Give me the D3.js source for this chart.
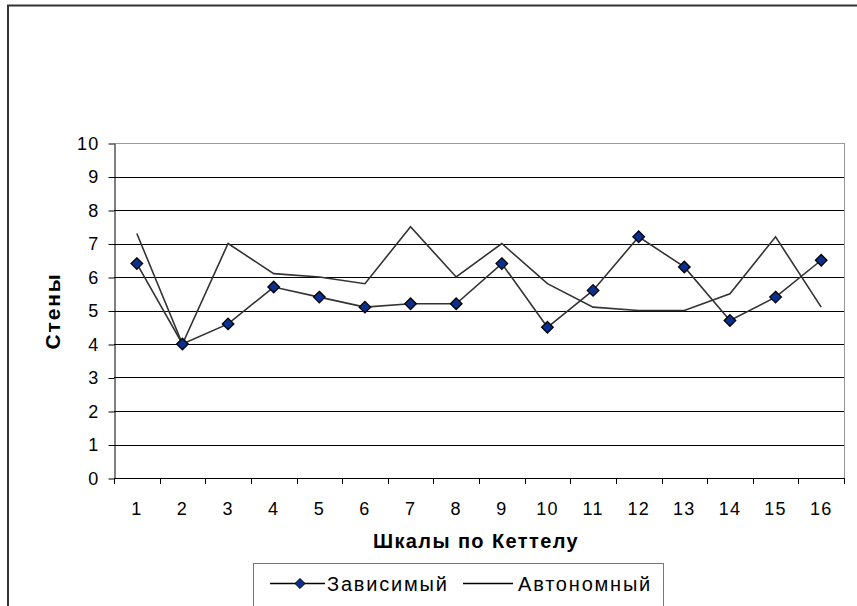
<!DOCTYPE html>
<html>
<head>
<meta charset="utf-8">
<script src="https://cdn.jsdelivr.net/npm/d3@7"></script>
<style>
  html, body { margin: 0; padding: 0; background: #fff; }
  #chart { width: 857px; height: 606px; overflow: hidden; }
</style>
</head>
<body>
<div id="chart"></div>
<script>
// Стены по шкалам Кеттела: две группы испытуемых

const scales = ["1","2","3","4","5","6","7","8","9","10","11","12","13","14","15","16"];

const dependent = [6.4, 4.0, 4.6, 5.7, 5.4, 5.1, 5.2, 5.2, 6.4, 4.5, 5.6, 7.2, 6.3, 4.7, 5.4, 6.5];
const autonomous = [7.3, 4.0, 7.0, 6.1, 6.0, 5.8, 7.5, 6.0, 7.0, 5.8, 5.1, 5.0, 5.0, 5.5, 7.2, 5.1];

const yTicks = [0,1,2,3,4,5,6,7,8,9,10];

const seriesNames = ["Зависимый", "Автономный"];

const width  = 857;
const height = 606;
const plot   = { left: 114, right: 844, top: 143, bottom: 478 };
const font   = "'Liberation Sans', Arial, sans-serif";

const svg = d3.select("#chart")
  .append("svg")
  .attr("width",  width)
  .attr("height", height)
  .style("display", "block");

svg.append("rect")
  .attr("width", width)
  .attr("height", height)
  .attr("fill", "#fff");

// outer chart frame (cut off on the right and bottom)
svg.append("path")
  .attr("d", `M8,${height + 5} L8,5.5 L${width + 5},5.5`)
  .attr("fill", "none")
  .attr("stroke", "#333")
  .attr("stroke-width", 2);

const xScale = d3.scaleBand()
  .domain(scales)
  .range([plot.left, plot.right]);

const yScale = d3.scaleLinear()
  .domain([0, 10])
  .range([plot.bottom, plot.top]);

// horizontal gridlines
svg.append("g")
  .selectAll("line")
  .data(yTicks.filter(t => t > 0))
  .join("line")
  .attr("x1", plot.left)
  .attr("x2", plot.right)
  .attr("y1", t => Math.round(yScale(t)) + 0.5)
  .attr("y2", t => Math.round(yScale(t)) + 0.5)
  .attr("stroke", t => t === 10 ? "#999" : "#000")
  .attr("stroke-width", 1);

// right border of plot area
svg.append("line")
  .attr("x1", plot.right + 0.5)
  .attr("x2", plot.right + 0.5)
  .attr("y1", plot.top)
  .attr("y2", plot.bottom)
  .attr("stroke", "#999");

// Y axis
svg.append("g")
  .attr("transform", `translate(${plot.left + 0.5}, 0.5)`)
  .call(d3.axisLeft(yScale).tickValues(yTicks).tickSize(6).tickSizeOuter(0).tickPadding(9))
  .call(axis => axis.select(".domain").attr("stroke", "#000"))
  .call(axis => axis.selectAll(".tick line").attr("stroke", "#000"))
  .call(axis => axis.selectAll(".tick text")
    .attr("fill", "#000")
    .attr("font-family", font)
    .attr("font-size", "18px")
    .attr("letter-spacing", "1.2px"));

// X axis: ticks sit on band boundaries, labels at band centres
const boundaries = d3.range(scales.length + 1).map(i => plot.left + i * xScale.bandwidth());

const xAxis = svg.append("g");
xAxis.append("line")
  .attr("x1", plot.left)
  .attr("x2", plot.right + 1)
  .attr("y1", plot.bottom + 0.5)
  .attr("y2", plot.bottom + 0.5)
  .attr("stroke", "#000");

xAxis.selectAll(".tick-mark")
  .data(boundaries)
  .join("line")
  .attr("class", "tick-mark")
  .attr("x1", x => Math.round(x) + 0.5)
  .attr("x2", x => Math.round(x) + 0.5)
  .attr("y1", plot.bottom)
  .attr("y2", plot.bottom + 6)
  .attr("stroke", "#000");

xAxis.selectAll(".tick-label")
  .data(scales)
  .join("text")
  .attr("class", "tick-label")
  .attr("x", d => xScale(d) + xScale.bandwidth() / 2)
  .attr("y", 515)
  .attr("text-anchor", "middle")
  .attr("font-family", font)
  .attr("font-size", "18px")
  .attr("letter-spacing", "1.2px")
  .attr("fill", "#000")
  .text(d => d);

// axis titles
svg.append("text")
  .attr("x", 476)
  .attr("y", 548)
  .attr("text-anchor", "middle")
  .attr("font-family", font)
  .attr("font-size", "20px")
  .attr("font-weight", "bold")
  .attr("letter-spacing", "1.4px")
  .attr("fill", "#000")
  .text("Шкалы по Кеттелу");

svg.append("text")
  .attr("transform", "rotate(-90)")
  .attr("x", -311)
  .attr("y", 60)
  .attr("text-anchor", "middle")
  .attr("font-family", font)
  .attr("font-size", "21px")
  .attr("font-weight", "bold")
  .attr("letter-spacing", "1.8px")
  .attr("fill", "#000")
  .text("Стены");

// series lines
const line = d3.line()
  .x((v, i) => xScale(scales[i]) + xScale.bandwidth() / 2)
  .y(v => yScale(v));

svg.append("path")
  .datum(autonomous)
  .attr("fill", "none")
  .attr("stroke", "#333")
  .attr("stroke-width", 1.6)
  .attr("d", line);

svg.append("path")
  .datum(dependent)
  .attr("fill", "none")
  .attr("stroke", "#333")
  .attr("stroke-width", 1.6)
  .attr("d", line);

const diamond = d3.symbol().type(d3.symbolDiamond2).size(85);

svg.append("g")
  .selectAll("path")
  .data(dependent)
  .join("path")
  .attr("transform", (v, i) => `translate(${xScale(scales[i]) + xScale.bandwidth() / 2}, ${yScale(v)})`)
  .attr("d", diamond)
  .attr("fill", "#0a2f8f")
  .attr("stroke", "#000")
  .attr("stroke-width", 1.3);

// legend
const legend = svg.append("g");
legend.append("rect")
  .attr("x", 253.5)
  .attr("y", 563.5)
  .attr("width", 410)
  .attr("height", 60)
  .attr("fill", "#fff")
  .attr("stroke", "#777")
  .attr("stroke-width", 1);

legend.append("line")
  .attr("x1", 270).attr("x2", 325)
  .attr("y1", 583.5).attr("y2", 583.5)
  .attr("stroke", "#000").attr("stroke-width", 1.5);
legend.append("path")
  .attr("transform", "translate(300, 583.5)")
  .attr("d", d3.symbol().type(d3.symbolDiamond2).size(64))
  .attr("fill", "#0a2f8f")
  .attr("stroke", "#000");
legend.append("text")
  .attr("x", 327).attr("y", 591)
  .attr("font-family", font).attr("font-size", "20px").attr("letter-spacing", "1.8px").attr("fill", "#000")
  .text(seriesNames[0]);

legend.append("line")
  .attr("x1", 463).attr("x2", 513)
  .attr("y1", 583.5).attr("y2", 583.5)
  .attr("stroke", "#000").attr("stroke-width", 1.5);
legend.append("text")
  .attr("x", 518).attr("y", 591)
  .attr("font-family", font).attr("font-size", "20px").attr("letter-spacing", "1.8px").attr("fill", "#000")
  .text(seriesNames[1]);
</script>
</body>
</html>
